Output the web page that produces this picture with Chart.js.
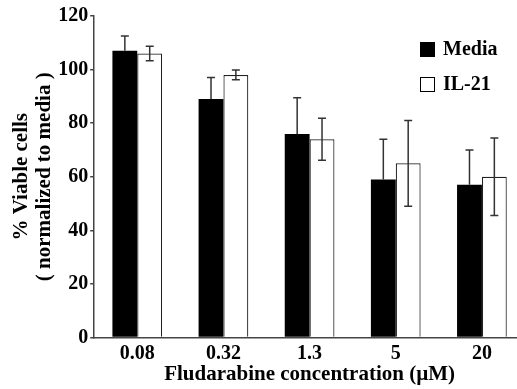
<!DOCTYPE html>
<html>
<head>
<meta charset="utf-8">
<script src="https://cdn.jsdelivr.net/npm/chart.js@4"></script>
<style>
  body { margin: 0; background: #fff; overflow: hidden; }
  #wrap { width: 530px; height: 389px; position: relative; }
</style>
</head>
<body>
<div id="wrap"><canvas id="chart"></canvas></div>
<script>
// Data
const concentrations = ["0.08", "0.32", "1.3", "5", "20"];
const mediaValues = [107, 89, 76, 59, 57];
const mediaErrors = [5.5, 8, 13.5, 15, 13];
const il21Values = [106, 98, 74, 65, 60];
const il21Errors = [2.7, 1.8, 7.8, 16, 14.5];
const yTicks = [0, 20, 40, 60, 80, 100, 120];

const serif = "'Liberation Serif', 'Times New Roman', serif";

// Draw the error bars for each bar (the lower half is hidden inside the black bars)
const errorBars = {
  id: "errorBars",
  afterDatasetsDraw(chart) {
    const ctx = chart.ctx;
    const yScale = chart.scales.y;
    ctx.save();
    ctx.strokeStyle = "#333";
    ctx.lineWidth = 1.5;
    chart.data.datasets.forEach(function (ds, i) {
      const meta = chart.getDatasetMeta(i);
      meta.data.forEach(function (bar, j) {
        const v = ds.data[j];
        const e = ds.errors[j];
        const top = yScale.getPixelForValue(v + e);
        const bottom = ds.errorBelow ? yScale.getPixelForValue(v - e) : bar.y;
        ctx.beginPath();
        ctx.moveTo(bar.x, top);
        ctx.lineTo(bar.x, bottom);
        ctx.moveTo(bar.x - 4, top);
        ctx.lineTo(bar.x + 4, top);
        if (ds.errorBelow) {
          ctx.moveTo(bar.x - 4, bottom);
          ctx.lineTo(bar.x + 4, bottom);
        }
        ctx.stroke();
      });
    });
    ctx.restore();
  }
};

// Simple vertical legend in the top right corner
const boxLegend = {
  id: "boxLegend",
  afterDraw(chart) {
    const ctx = chart.ctx;
    ctx.save();
    ctx.font = "bold 20px " + serif;
    ctx.textBaseline = "middle";
    chart.data.datasets.forEach(function (ds, i) {
      const y = 42 + i * 35;
      ctx.fillStyle = ds.backgroundColor;
      ctx.fillRect(420, y, 15, 15);
      ctx.strokeStyle = "#000";
      ctx.lineWidth = 1;
      ctx.strokeRect(420.5, y + 0.5, 14, 14);
      ctx.fillStyle = "#000";
      ctx.fillText(ds.label, 443, y + 8);
    });
    ctx.restore();
  }
};

new Chart(document.getElementById("chart"), {
  type: "bar",
  data: {
    labels: concentrations,
    datasets: [
      {
        label: "Media",
        data: mediaValues,
        errors: mediaErrors,
        errorBelow: false,
        backgroundColor: "#000",
        borderColor: "#000",
        borderWidth: 0
      },
      {
        label: "IL-21",
        data: il21Values,
        errors: il21Errors,
        errorBelow: true,
        backgroundColor: "#fff",
        borderColor: "#222",
        borderWidth: 1.2
      }
    ]
  },
  options: {
    responsive: true,
    maintainAspectRatio: false,
    animation: false,
    layout: { padding: { top: 16, right: 5, bottom: 9, left: 10 } },
    datasets: {
      bar: { categoryPercentage: 0.577, barPercentage: 1.0 }
    },
    plugins: {
      legend: { display: false },
      tooltip: { enabled: false }
    },
    scales: {
      x: {
        grid: { display: false, drawTicks: false },
        border: { display: true, color: "#444", width: 1.5 },
        ticks: { color: "#000", font: { family: serif, size: 20, weight: "bold" }, padding: 4 },
        title: {
          display: true,
          text: "Fludarabine concentration (\u00b5M)",
          color: "#000",
          font: { family: serif, size: 21, weight: "bold", lineHeight: 0.5 },
          padding: { top: 0, bottom: 0 }
        }
      },
      y: {
        min: 0,
        max: 120,
        afterBuildTicks(axis) {
          axis.ticks = yTicks.map(function (v) { return { value: v }; });
        },
        grid: { display: true, drawOnChartArea: false, drawTicks: true, tickLength: 4, color: "#444", lineWidth: 1.5 },
        border: { display: true, color: "#444", width: 1.5 },
        ticks: { color: "#000", font: { family: serif, size: 20, weight: "bold" }, padding: 2 },
        title: {
          display: true,
          text: ["% Viable cells", "( normalized to media )"],
          color: "#000",
          font: { family: serif, size: 21, weight: "bold", lineHeight: 1.1 },
          padding: { top: 0, bottom: 0 }
        }
      }
    }
  },
  plugins: [errorBars, boxLegend]
});
</script>
</body>
</html>
